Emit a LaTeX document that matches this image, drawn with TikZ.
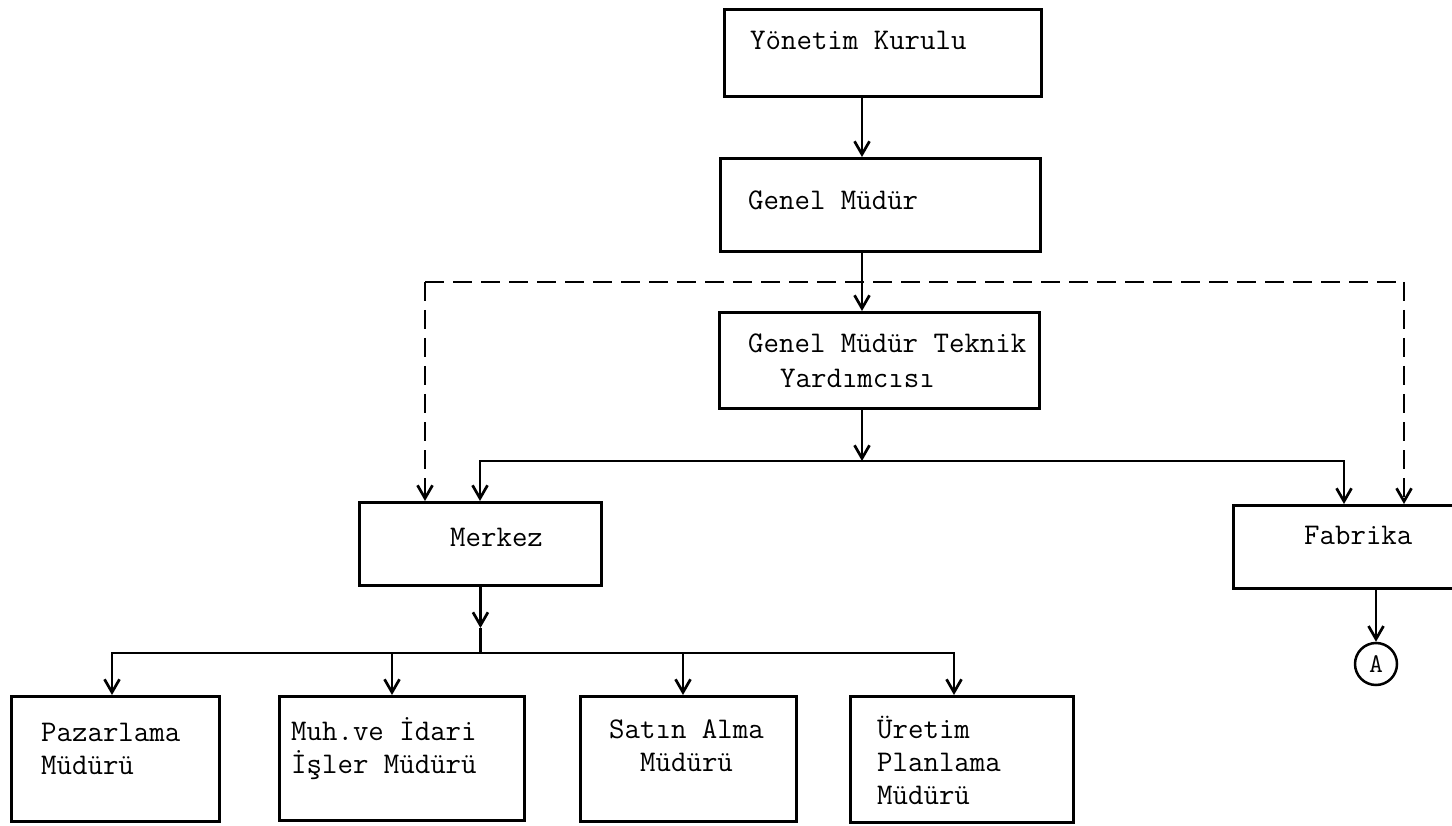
\documentclass[tikz,border=0pt]{standalone}
\usepackage{fontspec}
\usetikzlibrary{arrows.meta}
% typewriter face, emboldened a little
\newcommand{\twfont}{\ttfamily\addfontfeatures{FakeBold=2.2}}

\begin{document}
\begin{tikzpicture}[x=1pt,y=-1pt,
  every node/.style={inner sep=0pt},
  box/.style n args={2}{draw, line width=2.9pt, rectangle, anchor=north west,
    minimum width=#1, minimum height=#2},
  lbl/.style={anchor=west, align=left, font=\twfont\fontsize{30}{33}\selectfont},
  link/.style={line width=2.7pt},
  tip/.style={-{Straight Barb[length=13pt,width=15pt]}},
  arr/.style={link, tip},
  dline/.style={line width=2.7pt, dash pattern=on 19pt off 9pt},
]
\fill[white] (0,0) rectangle (1452,826);
\clip (0,0) rectangle (1452,826);

% boxes
\node[box={317pt}{87pt}] (yk) at (723,8) {};
\node[box={320pt}{93pt}] (gm) at (719,157) {};
\node[box={320pt}{96pt}] (gmt) at (718,311) {};
\node[box={242pt}{83pt}] (mk) at (358,501) {};
\node[box={240pt}{83pt}] (fb) at (1232,504) {};
\node[box={208pt}{125pt}] (pz) at (10,695) {};
\node[box={245pt}{124pt}] (mh) at (278,695) {};
\node[box={216pt}{125pt}] (sa) at (579,695) {};
\node[box={223pt}{126pt}] (up) at (849,695) {};
\node[draw, circle, line width=2.5pt, minimum size=42pt,
  font=\twfont\fontsize{27}{27}\selectfont] (ca) at (1376,664) {A};

% box texts
\node[lbl] (ykt) at (750,40) {Yönetim Kurulu};
\node[lbl] (gmx) at (748,200) {Genel Müdür};
\node[lbl] (gmtx) at (748,361) {Genel Müdür Teknik\\[2pt]\hspace*{32pt}Yardımcısı};
\node[lbl] (mkt) at (450,537) {Merkez};
\node[lbl] (fbt) at (1304,535) {Fabrika};
\node[lbl] (pzt) at (41,749) {Pazarlama\\Müdürü};
\node[lbl] (mht) at (291,749) {Muh.ve İdari\\İşler Müdürü};
\node[lbl] (sat) at (609,746) {Satın Alma\\\hspace*{31pt}Müdürü};
\node[lbl] (upt) at (877,760) {Üretim\\Planlama\\Müdürü};

% main spine
\coordinate (sp) at (862,282);
\coordinate (bus1) at (862,461);
\draw[arr] (yk.south -| sp) -- (gm.north -| sp);
\draw[arr] (gm.south -| sp) -- (gmt.north -| sp);
\draw[arr] (gmt.south -| sp) -- (bus1);

% branch to Merkez and Fabrika
\coordinate (bl) at (480,461);
\coordinate (br) at (1344,461);
\draw[arr] (bus1) -| (mk.north -| bl);
\draw[arr] (bus1) -| (fb.north -| br);

% dashed line
\coordinate (dl) at (425,282);
\coordinate (dr) at (1404,282);
\draw[dline] (dl) -- (dr);
\draw[dline, tip] (dl) -- (mk.north -| dl);
\draw[dline, tip] (dr) -- (fb.north -| dr);

% Merkez to its departments (arrow tip midway down)
\coordinate (mtip) at (480,628);
\coordinate (bj) at (480,653);
\draw[arr] (mk.south) -- (mk.south |- mtip);
\draw[link] (mk.south |- mtip) -- (mk.south |- bj);
\coordinate (d1) at (112,653);
\coordinate (d2) at (392,653);
\coordinate (d3) at (683,653);
\coordinate (d4) at (954,653);
\draw[arr] (mk.south |- bj) -| (pz.north -| d1);
\draw[arr] (mk.south |- bj) -| (mh.north -| d2);
\draw[arr] (mk.south |- bj) -| (sa.north -| d3);
\draw[arr] (mk.south |- bj) -| (up.north -| d4);

% Fabrika to connector A
\draw[arr] (ca.north |- fb.south) -- (ca.north);
\end{tikzpicture}
\end{document}
